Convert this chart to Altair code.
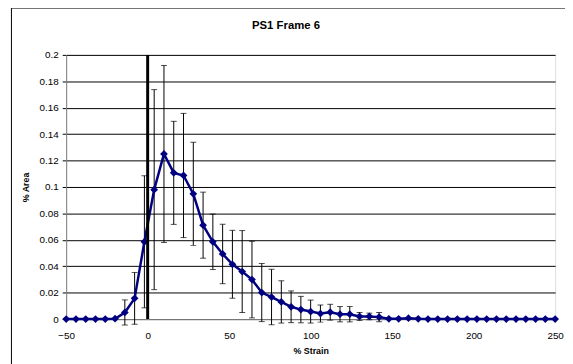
import altair as alt
import pandas as pd

# % Strain positions of each sample
strain = [-50, -44, -38, -32, -26, -20, -14, -8, -2, 4, 10, 16, 22, 28, 34, 40,
          46, 52, 58, 64, 70, 76, 82, 88, 94, 100, 106, 112, 118, 124, 130, 136,
          142, 148, 154, 160, 166, 172, 178, 184, 190, 196, 202, 208, 214, 220,
          226, 232, 238, 244, 250]
# % Area (mean)
area = [0, 0, 0, 0, 0, 0.0003, 0.005, 0.0157, 0.0585, 0.098, 0.125, 0.1107,
        0.1087, 0.0948, 0.0711, 0.0585, 0.0493, 0.0415, 0.036, 0.0299, 0.0201,
        0.0167, 0.013, 0.0093, 0.0072, 0.0057, 0.0042, 0.0052, 0.0037, 0.0037,
        0.002, 0.002, 0.0015, 0.0002, 0.0002, 0.0007, 0.0002, 0, 0, 0, 0, 0, 0,
        0, 0, 0, 0, 0, 0, 0, 0]
# error bar half-width
err = [0, 0, 0, 0, 0, 0, 0.0095, 0.0196, 0.050, 0.0757, 0.067, 0.039, 0.047,
       0.039, 0.025, 0.021, 0.0225, 0.0257, 0.031, 0.029, 0.022, 0.021, 0.016,
       0.012, 0.010, 0.0087, 0.0065, 0.006, 0.0058, 0.0058, 0.003, 0.0025,
       0.0035, 0, 0, 0, 0, 0, 0, 0, 0, 0, 0, 0, 0, 0, 0, 0, 0, 0, 0]

x_ticks = [-50, 0, 50, 100, 150, 200, 250]
y_ticks = [0, 0.02, 0.04, 0.06, 0.08, 0.1, 0.12, 0.14, 0.16, 0.18, 0.2]

zero_line_x = [0]
zero_line_y = [0, 0.2]

title_text = "PS1 Frame 6"

df = pd.DataFrame({"strain": strain, "area": area, "err": err})
df["lo"] = df["area"] - df["err"]
df["hi"] = df["area"] + df["err"]

FONT = "Liberation Sans"

xscale = alt.Scale(domain=[-50, 250], nice=False, zero=False)
yscale = alt.Scale(domain=[0, 0.2], nice=False)

xaxis = alt.Axis(values=x_ticks, grid=False, ticks=False, labelPadding=12,
                 labelFlush=False, labelOverlap=False,
                 labelFontSize=10, labelFont=FONT, labelColor="#000",
                 domainColor="#808080", title="% Strain", titleFont=FONT,
                 titleFontSize=9, titleFontWeight="bold", titleX=248, titleY=32,
                 titleBaseline="middle", titleAlign="center")
yaxis = alt.Axis(values=y_ticks, format="~g", grid=True, gridColor="#000",
                 gridWidth=1, tickSize=4, tickColor="#000", labelPadding=4,
                 labelFlush=False, labelOverlap=False,
                 labelFontSize=10, labelFont=FONT, labelColor="#000",
                 domainColor="#808080", title="% Area", titleFont=FONT,
                 titleFontSize=9, titleFontWeight="bold", titleX=-41, titleY=134,
                 titleAngle=270, titleBaseline="middle", titleAlign="center")


def X(field):
    return alt.X(field, scale=xscale, axis=xaxis)


def Y(field):
    return alt.Y(field, scale=yscale, axis=yaxis)


base = alt.Chart(df)

frame_data = alt.Chart(pd.DataFrame({"k": [0]}))
border_left = frame_data.mark_rule(color="#000", strokeWidth=1).encode(
    x=alt.value(-55.5), y=alt.value(-47.5), y2=alt.value(420))
border_top = frame_data.mark_rule(color="#000", strokeWidth=1).encode(
    x=alt.value(-55.5), x2=alt.value(600), y=alt.value(-47.5))
title_mark = frame_data.mark_text(font=FONT, fontSize=11.5, fontWeight="bold",
                                  color="#000", align="center",
                                  baseline="middle").encode(
    x=alt.value(223), y=alt.value(-29), text=alt.value(title_text))

bars = base.transform_filter("datum.err > 0")
err_rule = bars.mark_rule(color="#000", strokeWidth=1).encode(
    x=X("strain:Q"), y=Y("lo:Q"), y2="hi:Q")
cap_hi = bars.mark_tick(color="#000", thickness=1, size=6, orient="horizontal").encode(
    x=X("strain:Q"), y=Y("hi:Q"))
cap_lo = bars.mark_tick(color="#000", thickness=1, size=6, orient="horizontal").encode(
    x=X("strain:Q"), y=Y("lo:Q"))

line = base.mark_line(color="#000080", strokeWidth=2.5).encode(
    x=X("strain:Q"), y=Y("area:Q"))
pts = base.mark_point(shape="diamond", filled=True, color="#000080", size=62,
                      opacity=1).encode(
    x=X("strain:Q"), y=Y("area:Q"))

zero = alt.Chart(pd.DataFrame({"x": zero_line_x, "y0": [zero_line_y[0]],
                               "y1": [zero_line_y[1]]})).mark_rule(
    color="#000", strokeWidth=3).encode(
    x=X("x:Q"), y=Y("y0:Q"), y2="y1:Q")

chart = alt.layer(err_rule, cap_hi, cap_lo, line, pts, zero,
                  border_left, border_top, title_mark).properties(
    width=496, height=268,
    autosize=alt.AutoSizeParams(type="none"),
    padding={"left": 59, "top": 45, "right": 10, "bottom": 43},
).configure_view(stroke="#808080", strokeWidth=1).configure(
    background="white")

chart.save("out.html", embed_options={"renderer": "svg", "actions": False})
